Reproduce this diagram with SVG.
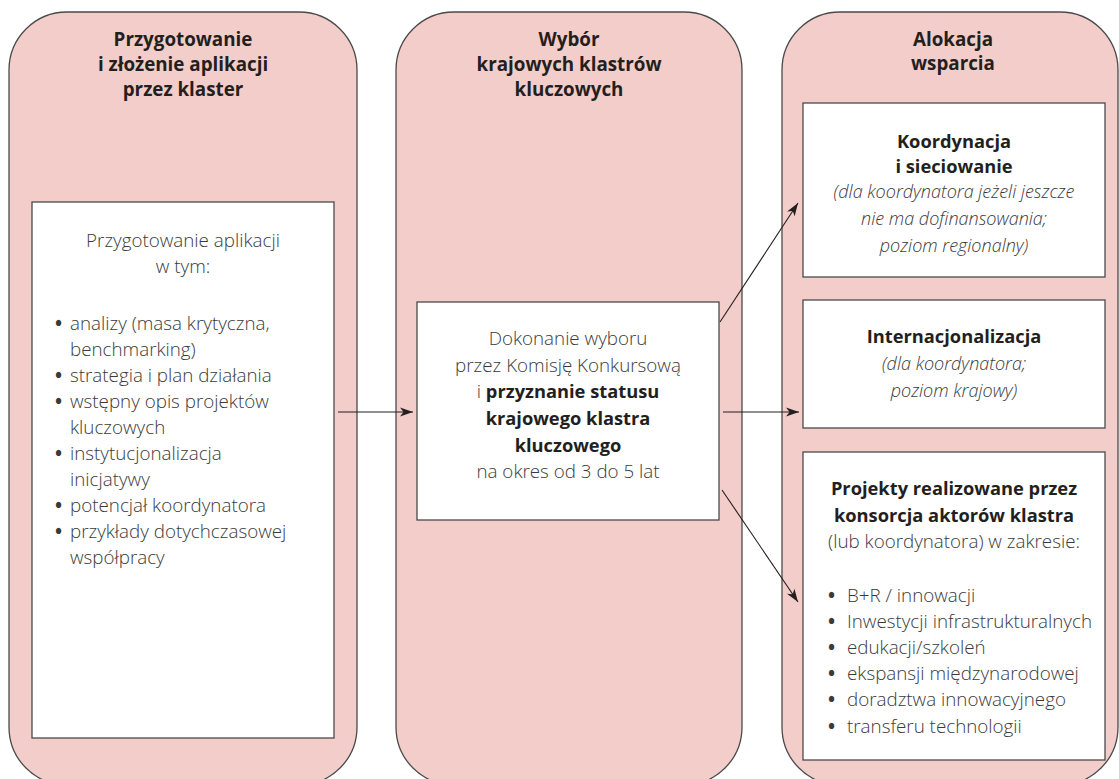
<svg xmlns="http://www.w3.org/2000/svg" width="1119" height="779" viewBox="0 0 1119 779">
<style>
.col{fill:#f3cdc9;stroke:#4a4a4a;stroke-width:1.3}
.box{fill:#ffffff;stroke:#4a4a4a;stroke-width:1.3}
.t{font-family:"Open Sans","Noto Sans","Liberation Sans",sans-serif;font-weight:700;font-size:18.8px;fill:#231f20;text-anchor:middle}
.b{font-family:"Open Sans","Noto Sans","Liberation Sans",sans-serif;font-weight:300;font-size:18.8px;fill:#3a3a3a}
.c{text-anchor:middle}
.i{font-style:italic;font-size:18px}
.bd{font-weight:700;fill:#231f20;font-size:18.3px}
.u{font-weight:700;fill:#3a3a3a}
.conn line{stroke:#231f20;stroke-width:1.1;fill:none;marker-end:url(#ah)}
</style>
<defs>
<marker id="ah" markerWidth="14" markerHeight="10" refX="13" refY="5" orient="auto" markerUnits="userSpaceOnUse">
<path d="M0,0.5 L13,5 L0,9.5 L3.5,5 Z" fill="#231f20"/>
</marker>
</defs>
<rect width="1119" height="779" fill="#ffffff"/>

<g id="col1">
<rect class="col" x="9" y="12" width="348" height="773" rx="58" ry="58"/>
<text class="t"><tspan x="183" y="46">Przygotowanie</tspan><tspan x="183" y="71">i złożenie aplikacji</tspan><tspan x="183" y="96">przez klaster</tspan></text>
</g>
<g id="prep">
<rect class="box" x="32" y="202" width="302" height="536"/>
<text class="b c"><tspan x="183" y="247">Przygotowanie aplikacji</tspan><tspan x="183" y="273">w tym:</tspan></text>
<text class="b"><tspan x="55" y="330" class="u">•</tspan><tspan x="70" y="330">analizy (masa krytyczna,</tspan><tspan x="70" y="356">benchmarking)</tspan><tspan x="55" y="382" class="u">•</tspan><tspan x="70" y="382">strategia i plan działania</tspan><tspan x="55" y="408" class="u">•</tspan><tspan x="70" y="408">wstępny opis projektów</tspan><tspan x="70" y="434">kluczowych</tspan><tspan x="55" y="460" class="u">•</tspan><tspan x="70" y="460">instytucjonalizacja</tspan><tspan x="70" y="486">inicjatywy</tspan><tspan x="55" y="512" class="u">•</tspan><tspan x="70" y="512">potencjał koordynatora</tspan><tspan x="55" y="538" class="u">•</tspan><tspan x="70" y="538">przykłady dotychczasowej</tspan><tspan x="70" y="564">współpracy</tspan></text>
</g>

<g id="col2">
<rect class="col" x="396" y="12" width="346" height="773" rx="58" ry="58"/>
<text class="t"><tspan x="569" y="46">Wybór</tspan><tspan x="569" y="71">krajowych klastrów</tspan><tspan x="569" y="96">kluczowych</tspan></text>
</g>
<g id="select">
<rect class="box" x="417" y="302" width="302" height="218"/>
<text class="b c"><tspan x="568" y="345">Dokonanie wyboru</tspan><tspan x="568" y="372">przez Komisję Konkursową</tspan><tspan x="568" y="398">i <tspan class="bd">przyznanie statusu</tspan></tspan><tspan x="568" y="425" class="bd">krajowego klastra</tspan><tspan x="568" y="452" class="bd">kluczowego</tspan><tspan x="568" y="478">na okres od 3 do 5 lat</tspan></text>
</g>

<g id="col3">
<rect class="col" x="782" y="12" width="336" height="773" rx="58" ry="58"/>
<text class="t"><tspan x="953" y="46">Alokacja</tspan><tspan x="953" y="70">wsparcia</tspan></text>
</g>
<g id="koord">
<rect class="box" x="803" y="103" width="302" height="174"/>
<text class="b c"><tspan x="954" y="148" class="bd">Koordynacja</tspan><tspan x="954" y="173" class="bd">i sieciowanie</tspan><tspan x="954" y="198" class="i">(dla koordynatora jeżeli jeszcze</tspan><tspan x="954" y="225" class="i">nie ma dofinansowania;</tspan><tspan x="954" y="252" class="i">poziom regionalny)</tspan></text>
</g>
<g id="intern">
<rect class="box" x="803" y="300" width="302" height="128"/>
<text class="b c"><tspan x="954" y="343" class="bd">Internacjonalizacja</tspan><tspan x="954" y="370" class="i">(dla koordynatora;</tspan><tspan x="954" y="397" class="i">poziom krajowy)</tspan></text>
</g>
<g id="projekty">
<rect class="box" x="803" y="452" width="302" height="308"/>
<text class="b c"><tspan x="954" y="495" class="bd">Projekty realizowane przez</tspan><tspan x="954" y="522" class="bd">konsorcja aktorów klastra</tspan><tspan x="954" y="548">(lub koordynatora) w zakresie:</tspan></text>
<text class="b"><tspan x="828" y="602" class="u">•</tspan><tspan x="847" y="602">B+R / innowacji</tspan><tspan x="828" y="628" class="u">•</tspan><tspan x="847" y="628">Inwestycji infrastrukturalnych</tspan><tspan x="828" y="654" class="u">•</tspan><tspan x="847" y="654">edukacji/szkoleń</tspan><tspan x="828" y="680" class="u">•</tspan><tspan x="847" y="680">ekspansji międzynarodowej</tspan><tspan x="828" y="706" class="u">•</tspan><tspan x="847" y="706">doradztwa innowacyjnego</tspan><tspan x="828" y="733" class="u">•</tspan><tspan x="847" y="733">transferu technologii</tspan></text>
</g>

<g id="connectors" class="conn">
<line x1="338" y1="412" x2="413" y2="412"/>
<line x1="720" y1="322" x2="798" y2="203"/>
<line x1="723" y1="412" x2="799" y2="412"/>
<line x1="722" y1="490" x2="798" y2="602"/>
</g>
</svg>
